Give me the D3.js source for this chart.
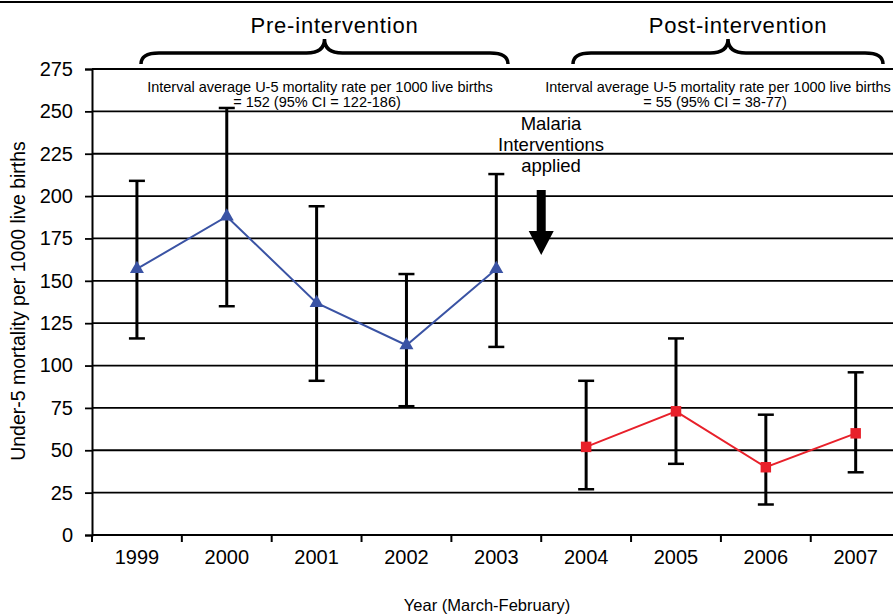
<!DOCTYPE html>
<html>
<head>
<meta charset="utf-8">
<script src="https://cdn.jsdelivr.net/npm/d3@7"></script>
<style>
  body { margin: 0; background: #fff; }
  svg { display: block; font-family: "Liberation Sans", Arial, sans-serif; }
</style>
</head>
<body>
<div id="chart"></div>
<script>
// under-5 mortality, before / after the malaria interventions
const years = ["1999", "2000", "2001", "2002", "2003", "2004", "2005", "2006", "2007"];
const yTicks = [0, 25, 50, 75, 100, 125, 150, 175, 200, 225, 250, 275];

const preYears = ["1999", "2000", "2001", "2002", "2003"];
const preRate = [157, 188, 137, 112, 157];
const preLower = [116, 135, 91, 76, 111];
const preUpper = [209, 252, 194, 154, 213];

const postYears = ["2004", "2005", "2006", "2007"];
const postRate = [52, 73, 40, 60];
const postLower = [27, 42, 18, 37];
const postUpper = [91, 116, 71, 96];

const periods = [
    {label: "Pre-intervention", from: "1999", to: "2003",
     line1: "Interval average U-5 mortality rate per 1000 live births",
     line2: "= 152 (95% CI = 122-186)"},
    {label: "Post-intervention", from: "2004", to: "2007",
     line1: "Interval average U-5 mortality rate per 1000 live births",
     line2: "= 55 (95% CI = 38-77)"}
];

const W = 893, H = 615;
const margin = {left: 92, top: 69, bottom: 80};
const plotW = 808.6;

let svg = d3.select("#chart").append("svg")
    .attr("width", W)
    .attr("height", H);

svg.append("rect").attr("width", W).attr("height", H).attr("fill", "#fff");

// top border line
svg.append("line")
    .attr("x1", 0).attr("x2", W)
    .attr("y1", 2).attr("y2", 2)
    .attr("stroke", "#000").attr("stroke-width", 1.8);

let x = d3.scaleBand()
    .domain(years)
    .range([margin.left, margin.left + plotW]);

let y = d3.scaleLinear()
    .domain([0, 275])
    .range([H - margin.bottom, margin.top]);

// gridlines
svg.append("g")
    .selectAll("line")
    .data(yTicks)
    .enter().append("line")
    .attr("x1", margin.left).attr("x2", W)
    .attr("y1", d => y(d)).attr("y2", d => y(d))
    .attr("stroke", "#000").attr("stroke-width", 1.8);

// y axis
let yAxis = svg.append("g")
    .attr("transform", `translate(${margin.left},0)`)
    .call(d3.axisLeft(y).tickValues(yTicks).tickSize(7).tickPadding(12));
yAxis.select(".domain").attr("stroke-width", 2);
yAxis.selectAll(".tick line").attr("stroke-width", 1.8);
yAxis.selectAll("text").style("font-size", "20px").attr("fill", "#000");

// x axis: ticks on category boundaries
let xAxisG = svg.append("g")
    .attr("transform", `translate(0,${y(0)})`);
xAxisG.append("line")
    .attr("x1", margin.left).attr("x2", W)
    .attr("stroke", "#000").attr("stroke-width", 2);
xAxisG.selectAll(".xtick")
    .data(years)
    .enter().append("line")
    .attr("class", "xtick")
    .attr("x1", d => x(d)).attr("x2", d => x(d))
    .attr("y1", 0).attr("y2", 7)
    .attr("stroke", "#000").attr("stroke-width", 2);
xAxisG.selectAll(".xlabel")
    .data(years)
    .enter().append("text")
    .attr("class", "xlabel")
    .attr("x", d => x(d) + x.bandwidth() / 2)
    .attr("y", 29)
    .attr("text-anchor", "middle")
    .style("font-size", "20px")
    .text(d => d);

// axis titles
svg.append("text")
    .attr("x", 487).attr("y", 611)
    .attr("text-anchor", "middle")
    .style("font-size", "16.5px")
    .text("Year (March-February)");

svg.append("text")
    .attr("transform", "translate(25,301) rotate(-90)")
    .attr("text-anchor", "middle")
    .style("font-size", "19.5px")
    .text("Under-5 mortality per 1000 live births");

// braces and period labels
function bracePath(x0, x1) {
    let cx = (x0 + x1) / 2, tip = 39, arm = 53, end = 64, r = 18;
    return `M${x0},${end} Q${x0},${arm} ${x0 + r},${arm} L${cx - r},${arm} Q${cx},${arm} ${cx},${tip}`
        + ` Q${cx},${arm} ${cx + r},${arm} L${x1 - r},${arm} Q${x1},${arm} ${x1},${end}`;
}
let braceX = [[141, 508], [573, 883]];
let intervalX = [320, 718];

periods.forEach((p, i) => {
    let bx = braceX[i];
    let cx = (bx[0] + bx[1]) / 2;
    svg.append("path")
        .attr("d", bracePath(bx[0], bx[1]))
        .attr("fill", "none")
        .attr("stroke", "#000")
        .attr("stroke-width", 3.5);
    svg.append("text")
        .attr("x", cx + 10).attr("y", 33)
        .attr("text-anchor", "middle")
        .style("font-size", "22px")
        .style("letter-spacing", "0.8px")
        .text(p.label);
    svg.append("text")
        .attr("x", intervalX[i]).attr("y", 92)
        .attr("text-anchor", "middle")
        .style("font-size", "14.5px")
        .text(p.line1);
    svg.append("text")
        .attr("x", intervalX[i] - 3).attr("y", 107)
        .attr("text-anchor", "middle")
        .style("font-size", "14.5px")
        .text(p.line2);
});

// intervention note and arrow
let noteX = 551;
["Malaria", "Interventions", "applied"].forEach((t, i) => {
    svg.append("text")
        .attr("x", noteX).attr("y", 130 + i * 21)
        .attr("text-anchor", "middle")
        .style("font-size", "18.5px")
        .text(t);
});
let arrowX = x("2004");
svg.append("path")
    .attr("d", `M${arrowX - 4.5},190 L${arrowX + 4.5},190 L${arrowX + 4.5},231 L${arrowX + 12.5},231`
        + ` L${arrowX},255 L${arrowX - 12.5},231 L${arrowX - 4.5},231 Z`)
    .attr("fill", "#000");

// series
function drawSeries(cats, rate, lower, upper, color, symbol, size) {
    let pts = cats.map((c, i) => ({cat: c, v: rate[i], lo: lower[i], hi: upper[i]}));
    let cxOf = d => x(d.cat) + x.bandwidth() / 2;
    let g = svg.append("g");

    // error bars
    let eb = g.selectAll(".eb").data(pts).enter().append("g");
    eb.append("line")
        .attr("x1", cxOf).attr("x2", cxOf)
        .attr("y1", d => y(d.lo)).attr("y2", d => y(d.hi))
        .attr("stroke", "#000").attr("stroke-width", 3);
    eb.append("line")
        .attr("x1", d => cxOf(d) - 8).attr("x2", d => cxOf(d) + 8)
        .attr("y1", d => y(d.hi)).attr("y2", d => y(d.hi))
        .attr("stroke", "#000").attr("stroke-width", 2.5);
    eb.append("line")
        .attr("x1", d => cxOf(d) - 8).attr("x2", d => cxOf(d) + 8)
        .attr("y1", d => y(d.lo)).attr("y2", d => y(d.lo))
        .attr("stroke", "#000").attr("stroke-width", 2.5);

    g.append("path")
        .datum(pts)
        .attr("fill", "none")
        .attr("stroke", color)
        .attr("stroke-width", 2)
        .attr("d", d3.line().x(cxOf).y(d => y(d.v)));

    g.selectAll(".mk").data(pts).enter().append("path")
        .attr("transform", d => `translate(${cxOf(d)},${y(d.v)})`)
        .attr("d", d3.symbol().type(symbol).size(size))
        .attr("fill", color);
}

drawSeries(preYears, preRate, preLower, preUpper, "#3A53A4", d3.symbolTriangle, 85);
drawSeries(postYears, postRate, postLower, postUpper, "#E8202A", d3.symbolSquare, 110);
</script>
</body>
</html>
